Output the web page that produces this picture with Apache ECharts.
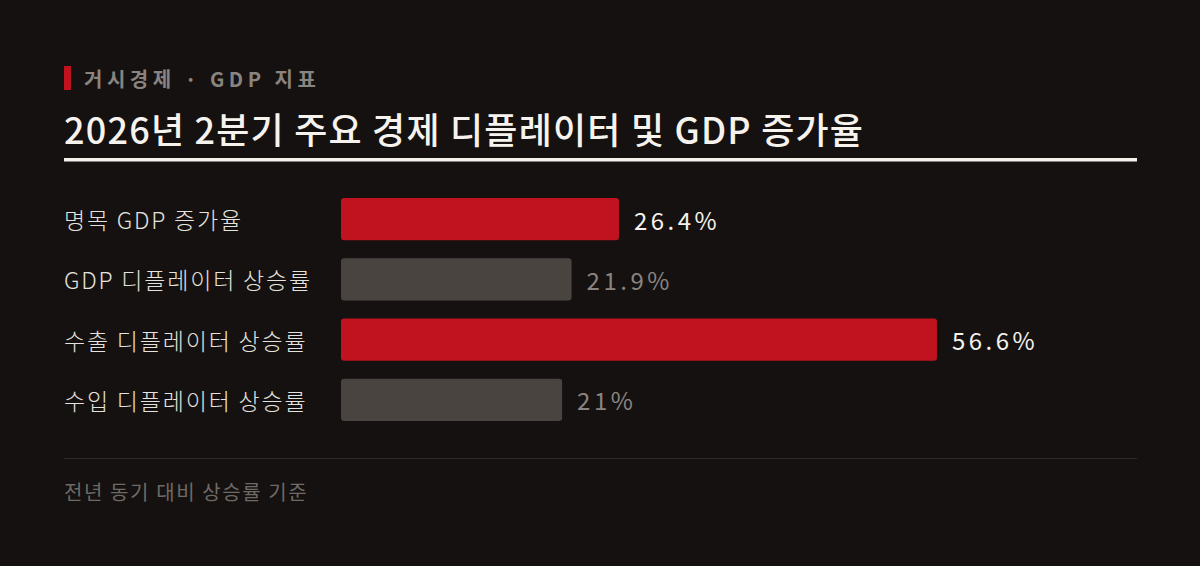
<!DOCTYPE html>
<html>
<head>
<meta charset="utf-8">
<script src="https://cdn.jsdelivr.net/npm/echarts@6/dist/echarts.min.js"></script>
<style>
  html, body { margin: 0; padding: 0; background: #141110; }
  #chart { width: 1200px; height: 566px; }
</style>
</head>
<body>
<div id="chart"></div>
<script>
var categories = ['명목 GDP 증가율', 'GDP 디플레이터 상승률', '수출 디플레이터 상승률', '수입 디플레이터 상승률'];
var values = [26.4, 21.9, 56.6, 21];
var highlight = [true, false, true, false];
var kicker = '거시경제 · GDP 지표';
var headline = '2026년 2분기 주요 경제 디플레이터 및 GDP 증가율';
var footnote = '전년 동기 대비 상승률 기준';

var FONT = '"Noto Sans CJK KR", "Noto Sans", sans-serif';

var myChart = echarts.init(document.getElementById('chart'), null, { renderer: 'svg' });

var barData = values.map(function (v, i) {
    return {
        value: v,
        itemStyle: { color: highlight[i] ? '#c0131f' : '#4a4440' },
        label: { color: highlight[i] ? '#f4f1ec' : '#8a8480' }
    };
});

var option = {
    backgroundColor: '#141110',
    animation: false,
    grid: {
        left: 341,
        right: 63,
        top: 189,
        bottom: 136,
        containLabel: false
    },
    xAxis: {
        type: 'value',
        min: 0,
        max: 75.6,
        show: false
    },
    yAxis: {
        type: 'category',
        inverse: true,
        data: categories,
        axisLine: { show: false },
        axisTick: { show: false },
        axisLabel: {
            align: 'left',
            margin: 277,
            color: '#e6e2dd',
            fontSize: 23,
            fontWeight: 300,
            fontFamily: FONT
        }
    },
    series: [
        {
            type: 'bar',
            data: barData,
            barCategoryGap: '30%',
            itemStyle: { borderRadius: 3 },
            label: {
                show: true,
                position: 'right',
                distance: 15,
                fontSize: 24,
                fontFamily: FONT,
                formatter: function (p) { return p.value + '%'; }
            }
        }
    ],
    graphic: [
        { type: 'rect', shape: { x: 64, y: 66, width: 7, height: 24 }, style: { fill: '#c0131f' } },
        {
            type: 'text', x: 84, y: 78,
            style: {
                text: kicker,
                fill: '#8a8480',
                font: 'bold 20px ' + FONT,
                textVerticalAlign: 'middle'
            }
        },
        {
            type: 'text', x: 64, y: 128,
            style: {
                text: headline,
                fill: '#f6f3ee',
                font: '500 36px ' + FONT,
                textVerticalAlign: 'middle'
            }
        },
        { type: 'rect', shape: { x: 64, y: 158, width: 1073, height: 3.5 }, style: { fill: '#f4f1ec' } },
        { type: 'rect', shape: { x: 64, y: 458, width: 1073, height: 1 }, style: { fill: '#2e2a28' } },
        {
            type: 'text', x: 64, y: 491,
            style: {
                text: footnote,
                fill: '#6f6965',
                font: '20px ' + FONT,
                textVerticalAlign: 'middle'
            }
        }
    ]
};

myChart.setOption(option);

// 글자 간격 (svg text에 letter-spacing 적용)
function spacing(txt) {
    if (txt === kicker) return 4.5;
    if (txt === headline) return 1.2;
    if (txt === footnote) return 1.6;
    if (categories.indexOf(txt) >= 0) return 1.8;
    if (/%$/.test(txt)) return 3.5;
    return 0;
}
function applySpacing() {
    var texts = document.querySelectorAll('#chart svg text');
    for (var i = 0; i < texts.length; i++) {
        var s = spacing(texts[i].textContent);
        if (s) texts[i].style.letterSpacing = s + 'px';
    }
}
myChart.on('finished', applySpacing);
applySpacing();
setTimeout(applySpacing, 50);
</script>
</body>
</html>
